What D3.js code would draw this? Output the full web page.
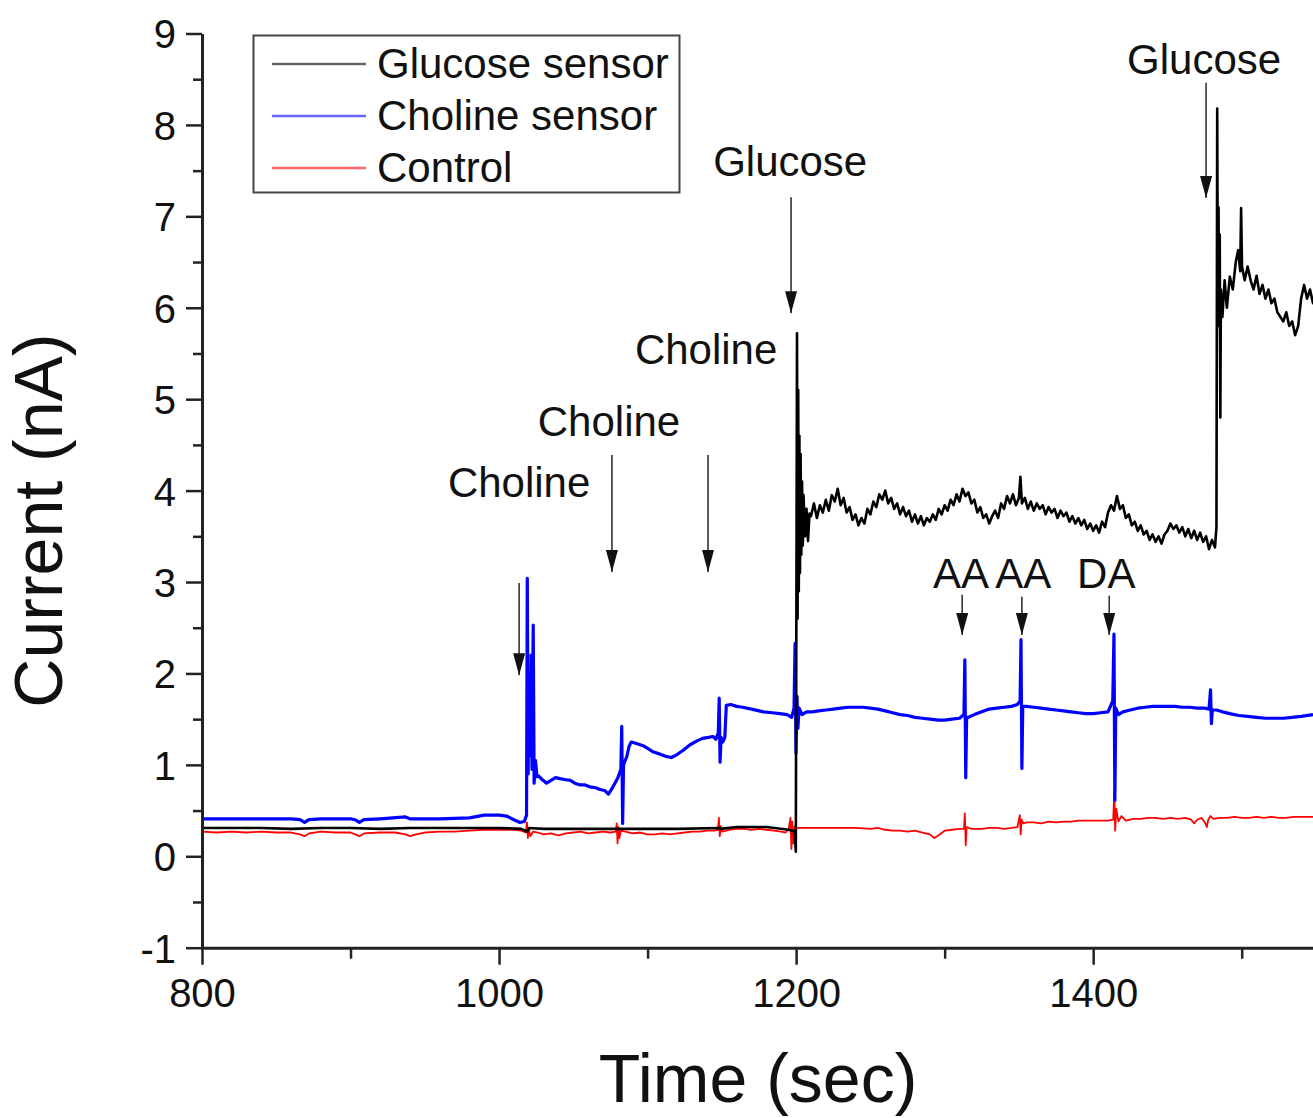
<!DOCTYPE html>
<html>
<head>
<meta charset="utf-8">
<script src="https://cdn.jsdelivr.net/npm/d3@7"></script>
<style>
  body { margin: 0; background: #fff; }
  svg { display: block; }
</style>
</head>
<body>
<svg id="chart" width="1313" height="1118"></svg>
<script>
// ---- data ----
var glucoseT = [800, 820, 840, 860, 880, 900, 920, 940, 960, 980, 1000, 1015, 1019, 1020, 1030, 1050, 1079, 1080, 1100, 1120, 1148, 1149, 1160, 1180, 1195, 1199,
  1199.8, 1200.6, 1201.0, 1201.4, 1201.8, 1202.2, 1202.6, 1203, 1203.5, 1204, 1204.5, 1205, 1206, 1207, 1208, 1209,
  1210, 1212, 1214, 1216, 1218, 1220, 1222, 1224, 1226, 1228, 1230, 1232, 1234, 1236, 1238, 1240, 1242, 1244, 1246, 1248,
  1250, 1252, 1254, 1256, 1258, 1260, 1262, 1264, 1266, 1268, 1270, 1272, 1274, 1276, 1278, 1280, 1282, 1284, 1286, 1288,
  1290, 1292, 1294, 1296, 1298, 1300, 1302, 1304, 1306, 1308, 1310, 1312, 1314, 1316, 1318, 1320, 1322, 1324, 1326, 1328,
  1330, 1332, 1334, 1336, 1338, 1340, 1342, 1344, 1346, 1348, 1350, 1351, 1352, 1354, 1356, 1358, 1360, 1362, 1364, 1366, 1368,
  1370, 1372, 1374, 1376, 1378, 1380, 1382, 1384, 1386, 1388, 1390, 1392, 1394, 1396, 1398, 1400, 1402, 1404, 1406, 1408,
  1410, 1412, 1414, 1416, 1418, 1420, 1422, 1424, 1426, 1428, 1430, 1432, 1434, 1436, 1438, 1440, 1442, 1444, 1446, 1448,
  1450, 1452, 1454, 1456, 1458, 1460, 1462, 1464, 1466, 1468, 1470, 1472, 1474, 1476, 1478, 1480, 1482, 1483,
  1483.5, 1484, 1484.4, 1484.8, 1485.2, 1485.6, 1486, 1487, 1488.5, 1490, 1492, 1494, 1496, 1497.6, 1499, 1499.6, 1500.2,
  1502, 1504, 1506, 1508, 1510, 1512, 1514, 1516, 1518, 1520, 1522, 1524, 1526, 1528, 1530, 1532, 1534, 1536, 1538, 1540,
  1542, 1544, 1546, 1548, 1550];
var glucoseV = [0.31, 0.31, 0.31, 0.30, 0.31, 0.31, 0.30, 0.31, 0.31, 0.31, 0.31, 0.30, 0.27, 0.31, 0.30, 0.30, 0.30, 0.30, 0.30, 0.30, 0.31, 0.30, 0.32, 0.32, 0.29, 0.27,
  0.05, 5.72, 2.6, 5.1, 2.9, 4.6, 3.1, 4.4, 3.3, 4.1, 3.4, 3.95, 3.5, 3.8, 3.45, 3.75,
  3.72, 3.86, 3.70, 3.84, 3.76, 3.90, 3.78, 3.95, 3.88, 4.02, 3.84, 3.92, 3.76, 3.82, 3.68, 3.74, 3.62, 3.70, 3.64, 3.80,
  3.74, 3.88, 3.82, 3.96, 3.90, 4.00, 3.86, 3.92, 3.80, 3.86, 3.74, 3.82, 3.72, 3.78, 3.66, 3.74, 3.64, 3.72, 3.62, 3.70,
  3.66, 3.74, 3.68, 3.80, 3.74, 3.84, 3.78, 3.90, 3.84, 3.96, 3.88, 4.02, 3.94, 3.98, 3.86, 3.90, 3.76, 3.82, 3.70, 3.74,
  3.64, 3.72, 3.78, 3.70, 3.86, 3.80, 3.94, 3.86, 3.96, 3.84, 3.92, 4.15, 3.86, 3.92, 3.80, 3.88, 3.78, 3.86, 3.80, 3.84, 3.74,
  3.82, 3.76, 3.80, 3.70, 3.78, 3.72, 3.76, 3.66, 3.72, 3.64, 3.70, 3.62, 3.68, 3.58, 3.64, 3.56, 3.62, 3.54, 3.66, 3.60,
  3.76, 3.84, 3.78, 3.94, 3.80, 3.84, 3.70, 3.74, 3.62, 3.66, 3.56, 3.62, 3.52, 3.56, 3.46, 3.52, 3.44, 3.50, 3.42, 3.52,
  3.56, 3.64, 3.58, 3.62, 3.54, 3.60, 3.50, 3.58, 3.48, 3.56, 3.46, 3.54, 3.44, 3.50, 3.36, 3.46, 3.38, 3.60,
  8.18, 5.8, 7.1, 5.9, 6.8, 4.8, 6.2, 5.9, 6.3, 6.0, 6.34, 6.2, 6.5, 6.63, 6.4, 7.09, 6.45,
  6.3, 6.45, 6.3, 6.2, 6.35, 6.15, 6.25, 6.1, 6.2, 6.05, 6.1, 5.95, 5.9, 5.85, 5.95, 5.8, 5.85, 5.7, 5.8, 6.1,
  6.25, 6.1, 6.2, 6.05, 6.1];

var cholineT = [800, 820, 840, 860, 866, 869, 872, 880, 900, 903, 906, 909, 920, 937, 940, 960, 980, 990, 1000, 1005, 1010, 1014, 1017,
  1018.5, 1019, 1019.6, 1020.2, 1020.8, 1021.6, 1022.2, 1023, 1023.6, 1024.5, 1025.5, 1026.5, 1029, 1032, 1035, 1038, 1041, 1044,
  1048, 1051, 1054.5, 1058, 1061, 1065, 1068, 1071, 1073.6, 1076, 1078, 1080, 1082, 1082.6, 1083.2, 1083.8, 1085, 1086, 1087.5,
  1089, 1093, 1097, 1100, 1104, 1108, 1113, 1116, 1119.6, 1124, 1128.6, 1133, 1137, 1141, 1144, 1146, 1147.6, 1148.2, 1148.8,
  1149.5, 1150.6, 1152, 1153, 1156, 1160, 1164, 1170, 1178, 1184, 1189, 1194, 1197, 1198.6, 1199.3, 1199.9, 1200.6, 1201.2,
  1202, 1204, 1207, 1211, 1215, 1220, 1225, 1230, 1235, 1240, 1245, 1250, 1255, 1260, 1265, 1270, 1275, 1280, 1285, 1290,
  1296, 1300, 1305, 1310, 1313, 1313.6, 1314.2, 1314.8, 1316, 1320, 1325, 1330, 1335, 1340, 1345, 1349, 1350.8, 1351.4, 1352,
  1352.6, 1355, 1360, 1365, 1370, 1375, 1380, 1385, 1390, 1395, 1400, 1405, 1410, 1413.2, 1414, 1414.6, 1415.2, 1417, 1420,
  1425, 1430, 1435, 1440, 1445, 1450, 1455, 1460, 1465, 1470, 1475, 1478, 1479, 1479.6, 1480.2, 1483, 1487, 1492, 1498, 1504,
  1510, 1516, 1522, 1528, 1534, 1540, 1548];
var cholineV = [0.41, 0.41, 0.41, 0.41, 0.40, 0.37, 0.40, 0.41, 0.41, 0.40, 0.37, 0.40, 0.41, 0.43, 0.41, 0.41, 0.42, 0.45, 0.45, 0.44, 0.40, 0.37, 0.38,
  0.45, 3.04, 0.9, 2.0, 1.1, 2.2, 0.95, 2.53, 0.8, 1.05, 0.87, 0.88, 0.84, 0.80, 0.83, 0.86, 0.85, 0.84,
  0.83, 0.80, 0.78, 0.78, 0.76, 0.75, 0.73, 0.72, 0.68, 0.74, 0.80, 0.86, 0.95, 1.42, 0.36, 1.0, 1.05, 1.09, 1.20,
  1.25, 1.23, 1.21, 1.18, 1.14, 1.12, 1.09, 1.08, 1.11, 1.16, 1.22, 1.26, 1.29, 1.30, 1.31, 1.28, 1.35, 1.73, 1.03,
  1.30, 1.25, 1.30, 1.65, 1.66, 1.64, 1.63, 1.61, 1.58, 1.57, 1.56, 1.55, 1.52, 1.62, 2.33, 1.13, 1.75, 1.40,
  1.62, 1.55, 1.58, 1.58, 1.59, 1.60, 1.61, 1.62, 1.63, 1.63, 1.63, 1.62, 1.61, 1.59, 1.57, 1.55, 1.54, 1.52, 1.51, 1.50,
  1.49, 1.49, 1.50, 1.51, 1.55, 2.15, 0.86, 1.52, 1.52, 1.55, 1.58, 1.61, 1.62, 1.63, 1.64, 1.66, 1.70, 2.37, 0.96,
  1.64, 1.64, 1.63, 1.62, 1.61, 1.60, 1.59, 1.58, 1.57, 1.56, 1.56, 1.57, 1.58, 1.70, 2.43, 0.61, 1.62, 1.55, 1.58,
  1.60, 1.62, 1.63, 1.64, 1.64, 1.64, 1.64, 1.63, 1.63, 1.62, 1.62, 1.61, 1.82, 1.45, 1.60, 1.60, 1.58, 1.56, 1.54, 1.53,
  1.52, 1.51, 1.51, 1.51, 1.52, 1.53, 1.55];

var controlT = [800, 810, 820, 830, 840, 850, 860, 866, 869, 872, 880, 890, 900, 903, 906, 909, 920, 930, 937, 940, 944, 950, 960, 970, 980, 990,
  1000, 1010, 1015, 1018, 1018.8, 1019.4, 1020, 1021, 1023, 1026, 1030, 1035, 1040, 1045, 1050, 1055, 1060, 1065, 1070, 1075,
  1078.6, 1079.2, 1079.8, 1080.4, 1081, 1082, 1085, 1090, 1095, 1100, 1105, 1110, 1115, 1120, 1125, 1130, 1135, 1140, 1145,
  1147.4, 1148, 1148.6, 1149.2, 1150, 1155, 1160, 1165, 1170, 1175, 1180, 1185, 1190, 1193, 1195, 1196.2, 1196.8, 1197.4, 1198, 1199,
  1200, 1205, 1210, 1220, 1230, 1240, 1250, 1255, 1260, 1265, 1270, 1275, 1280, 1285, 1290, 1293, 1296, 1300, 1305, 1310, 1313,
  1313.6, 1314.2, 1314.8, 1318, 1325, 1330, 1335, 1340, 1345, 1349, 1350.6, 1351.2, 1351.8, 1353, 1355, 1360, 1365, 1370, 1375,
  1380, 1385, 1390, 1395, 1400, 1405, 1410, 1413.5, 1414.2, 1414.8, 1415.5, 1417, 1419, 1422, 1427, 1432, 1437, 1442, 1447,
  1452, 1457, 1462, 1466, 1468, 1470, 1473, 1475.5, 1476.5, 1477.5, 1479, 1481, 1485, 1490, 1495, 1500, 1505, 1510, 1515, 1520,
  1525, 1530, 1535, 1540, 1548];
var controlV = [0.27, 0.26, 0.27, 0.26, 0.27, 0.26, 0.26, 0.24, 0.22, 0.25, 0.27, 0.26, 0.26, 0.24, 0.22, 0.25, 0.26, 0.26, 0.24, 0.22, 0.24, 0.26, 0.27, 0.27, 0.28, 0.29,
  0.29, 0.29, 0.28, 0.26, 0.37, 0.20, 0.31, 0.22, 0.27, 0.26, 0.24, 0.25, 0.23, 0.25, 0.26, 0.27, 0.25, 0.26, 0.27, 0.26,
  0.27, 0.36, 0.14, 0.32, 0.20, 0.28, 0.27, 0.25, 0.26, 0.24, 0.24, 0.25, 0.24, 0.25, 0.26, 0.27, 0.27, 0.28, 0.28,
  0.29, 0.42, 0.22, 0.33, 0.27, 0.29, 0.30, 0.30, 0.29, 0.30, 0.29, 0.28, 0.27, 0.26, 0.30, 0.42, 0.08, 0.38, 0.14, 0.33,
  0.31, 0.31, 0.31, 0.31, 0.31, 0.31, 0.30, 0.31, 0.29, 0.28, 0.28, 0.27, 0.28, 0.26, 0.24, 0.20, 0.23, 0.28, 0.29, 0.30, 0.30,
  0.47, 0.12, 0.32, 0.30, 0.30, 0.31, 0.31, 0.30, 0.31, 0.32, 0.45, 0.24, 0.40, 0.36, 0.37, 0.37, 0.36, 0.38, 0.37,
  0.38, 0.38, 0.39, 0.39, 0.39, 0.39, 0.39, 0.40, 0.72, 0.28, 0.52, 0.38, 0.44, 0.39, 0.41, 0.41, 0.42, 0.42, 0.41,
  0.42, 0.41, 0.42, 0.40, 0.36, 0.40, 0.42, 0.36, 0.32, 0.40, 0.44, 0.41, 0.42, 0.42, 0.43, 0.42, 0.42, 0.43, 0.42, 0.43,
  0.42, 0.42, 0.43, 0.43, 0.43];

var seriesNames = ["Glucose sensor", "Choline sensor", "Control"];
var seriesColors = ["#000000", "#0000ff", "#ff0000"];

var yTicks = [-1, 0, 1, 2, 3, 4, 5, 6, 7, 8, 9];
var yMinorTicks = [-0.5, 0.5, 1.5, 2.5, 3.5, 4.5, 5.5, 6.5, 7.5, 8.5];
var xTicks = [800, 1000, 1200, 1400];
var xMinorTicks = [900, 1100, 1300, 1500];

// annotation labels and arrows (time, current)
var noteText = ["Choline", "Choline", "Choline", "Glucose", "Glucose", "AA", "AA", "DA"];
var noteT = [1013.5, 1074, 1139.4, 1196, 1474.7, 1311, 1352.9, 1408.8];
var noteV = [3.93, 4.6, 5.38, 7.44, 8.56, 2.93, 2.93, 2.93];
var arrowT = [1013.5, 1076, 1140.7, 1196.6, 1476, 1311.8, 1352, 1410.8];
var arrowTop = [2.99, 4.39, 4.39, 7.21, 8.46, 2.86, 2.84, 2.85];
var arrowTip = [1.98, 3.11, 3.11, 5.94, 7.2, 2.42, 2.42, 2.42];

// ---- drawing ----
var W = 1313, H = 1118;
var svg = d3.select("#chart");
var font = "'Liberation Sans', Arial, Helvetica, sans-serif";

// the figure is cut at the right edge, around 1548 s
var x = d3.scaleLinear().domain([800, 1548]).range([202, 1313]);
var y = d3.scaleLinear().domain([-1, 9]).range([947.7, 33.5]);

var defs = svg.append("defs");
defs.append("clipPath").attr("id", "plotclip")
  .append("rect").attr("x", x(800)).attr("y", 0).attr("width", W - x(800)).attr("height", y(-1));

defs.append("marker")
  .attr("id", "arrowhead")
  .attr("viewBox", "0 -5 10 10")
  .attr("refX", 10).attr("refY", 0)
  .attr("markerWidth", 22).attr("markerHeight", 12)
  .attr("preserveAspectRatio", "none")
  .attr("orient", "auto")
  .attr("markerUnits", "userSpaceOnUse")
  .append("path")
  .attr("d", "M0,-5L10,0L0,5Z")
  .attr("fill", "#111");

var line = d3.line().x(function(d){ return x(d[0]); }).y(function(d){ return y(d[1]); });

var series = [
  {t: glucoseT, v: glucoseV, width: 2.6},
  {t: cholineT, v: cholineV, width: 3.2},
  {t: controlT, v: controlV, width: 1.8}
];

var plot = svg.append("g").attr("clip-path", "url(#plotclip)");
// draw control first, then choline, then glucose on top
[2, 1, 0].forEach(function(i){
  var s = series[i];
  var pts = s.t.map(function(t, k){ return [t, s.v[k]]; });
  plot.append("path")
    .datum(pts)
    .attr("fill", "none")
    .attr("stroke", seriesColors[i])
    .attr("stroke-width", s.width)
    .attr("stroke-linejoin", "round")
    .attr("d", line);
});

// axes
function styleAxis(g){
  g.select(".domain").attr("stroke", "#222").attr("stroke-width", 3);
  g.selectAll(".tick line").attr("stroke", "#222").attr("stroke-width", 2.5);
  g.selectAll("text").attr("font-family", font).attr("font-size", 40).attr("fill", "#111");
}
function plain(d){ return String(d); }

var yAxis = svg.append("g").attr("transform", "translate(" + x(800) + ",0)")
  .call(d3.axisLeft(y).tickValues(yTicks).tickSize(16).tickSizeOuter(0).tickPadding(10).tickFormat(plain));
styleAxis(yAxis);
yAxis.selectAll("text").attr("dy", "0.36em");
svg.append("g").attr("transform", "translate(" + x(800) + ",0)")
  .call(d3.axisLeft(y).tickValues(yMinorTicks).tickSize(9).tickSizeOuter(0).tickFormat(""))
  .call(function(g){ g.select(".domain").remove(); g.selectAll(".tick line").attr("stroke", "#222").attr("stroke-width", 2.5); });

var xAxis = svg.append("g").attr("transform", "translate(0," + y(-1) + ")")
  .call(d3.axisBottom(x).tickValues(xTicks).tickSize(17).tickSizeOuter(0).tickPadding(14).tickFormat(plain));
styleAxis(xAxis);
svg.append("g").attr("transform", "translate(0," + y(-1) + ")")
  .call(d3.axisBottom(x).tickValues(xMinorTicks).tickSize(11).tickSizeOuter(0).tickFormat(""))
  .call(function(g){ g.select(".domain").remove(); g.selectAll(".tick line").attr("stroke", "#222").attr("stroke-width", 2.5); });

// axis titles
svg.append("text")
  .attr("transform", "translate(62," + ((y(9) + y(-1)) / 2 + 30) + ") rotate(-90)")
  .attr("text-anchor", "middle")
  .attr("font-family", font).attr("font-size", 68).attr("fill", "#111")
  .text("Current (nA)");
svg.append("text")
  .attr("x", 758).attr("y", 1102)
  .attr("text-anchor", "middle")
  .attr("font-family", font).attr("font-size", 68).attr("fill", "#111")
  .text("Time (sec)");

// annotations
var notes = svg.append("g");
noteText.forEach(function(txt, i){
  notes.append("text")
    .attr("x", x(noteT[i])).attr("y", y(noteV[i]))
    .attr("text-anchor", "middle")
    .attr("font-family", font).attr("font-size", 42).attr("fill", "#111")
    .text(txt);
  notes.append("line")
    .attr("x1", x(arrowT[i])).attr("x2", x(arrowT[i]))
    .attr("y1", y(arrowTop[i])).attr("y2", y(arrowTip[i]))
    .attr("stroke", "#333").attr("stroke-width", 1.6)
    .attr("marker-end", "url(#arrowhead)");
});

// legend
var lg = svg.append("g");
lg.append("rect")
  .attr("x", 253.5).attr("y", 35.5).attr("width", 426).attr("height", 157)
  .attr("fill", "#fff").attr("stroke", "#444").attr("stroke-width", 2);
seriesNames.forEach(function(name, i){
  var cy = 64 + i * 52;
  lg.append("line")
    .attr("x1", 272).attr("x2", 366).attr("y1", cy).attr("y2", cy)
    .attr("stroke", seriesColors[i]).attr("stroke-opacity", 0.6).attr("stroke-width", 2.5);
  lg.append("text")
    .attr("x", 377).attr("y", cy + 14)
    .attr("font-family", font).attr("font-size", 42).attr("fill", "#111")
    .text(name);
});
</script>
</body>
</html>
